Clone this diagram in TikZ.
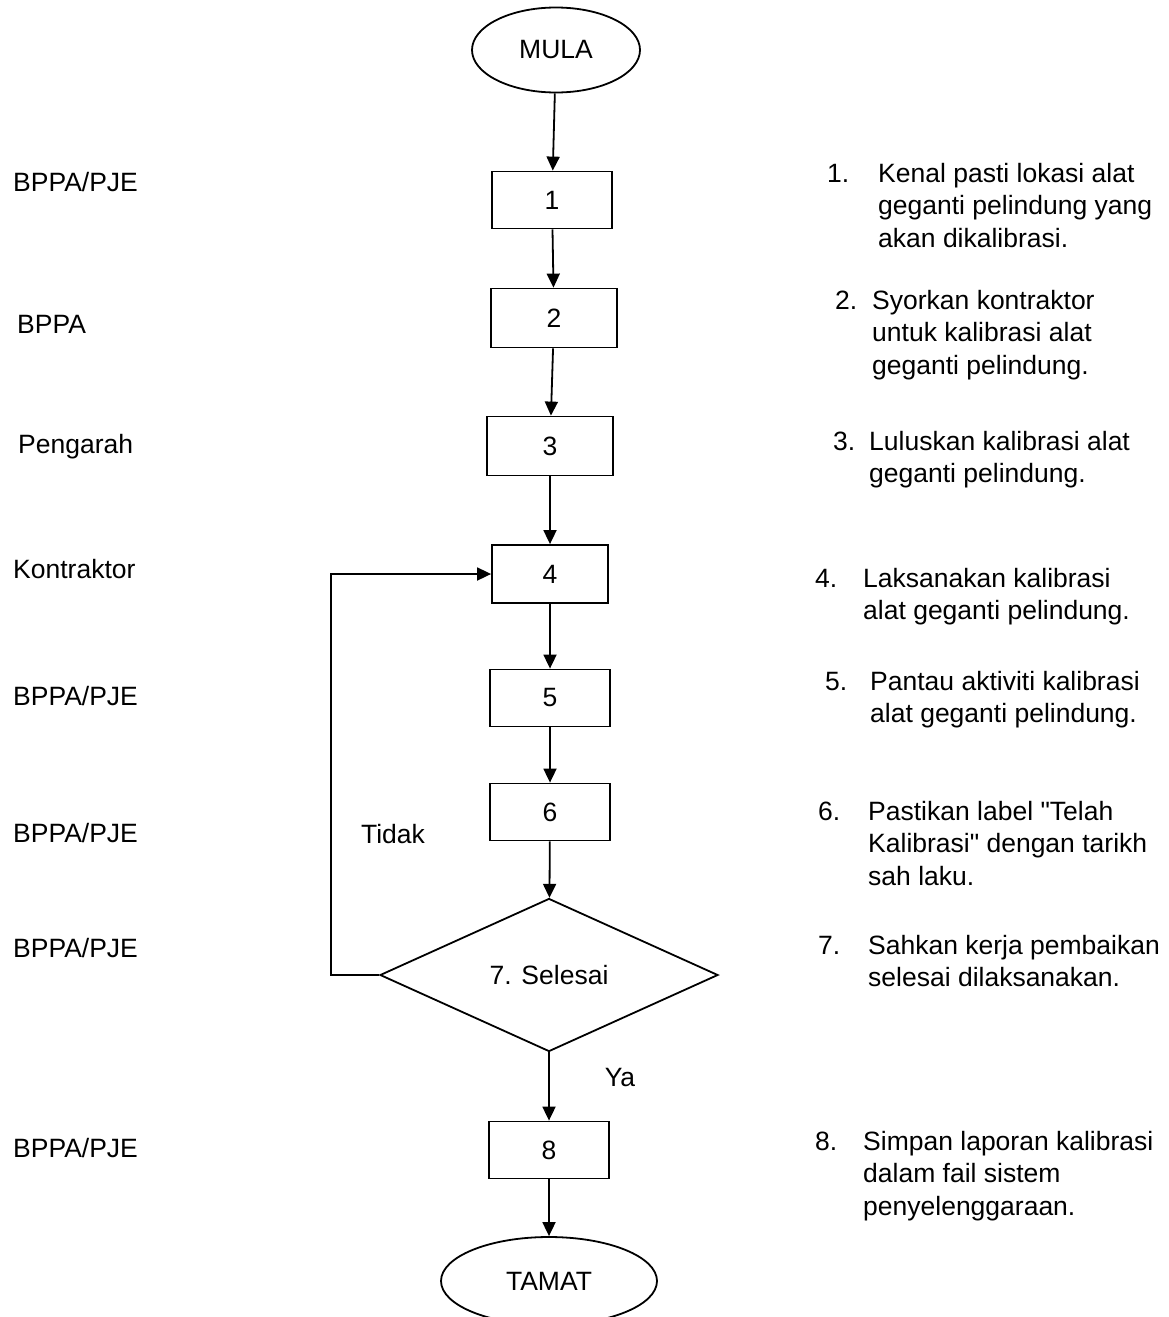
\documentclass[tikz,border=0pt]{standalone}
\usepackage{fontspec}
\setmainfont{Liberation Sans}[Ligatures=TeXOff]
\usepackage{tikz}
\usetikzlibrary{arrows.meta, positioning, shapes.geometric, calc}

\tikzset{
  flowline/.style={line width=1.8pt},
  flowarrow/.style={flowline, -{Triangle[length=14pt, width=13pt]}},
  procbox/.style={draw, flowline, rectangle, minimum width=120pt, minimum height=57pt, inner sep=0pt},
  termnode/.style={draw, flowline, ellipse, minimum width=168pt, minimum height=85pt, inner sep=0pt},
  decnode/.style={draw, flowline, diamond, minimum width=338pt, minimum height=153pt, inner sep=0pt},
  rolelabel/.style={anchor=base west, inner sep=0pt},
  stepnum/.style={anchor=base west, inner sep=0pt},
  steptext/.style={anchor=north west, inner sep=0pt, align=left}
}

\begin{document}
\begin{tikzpicture}[x=1pt, y=-1pt, font=\fontsize{26.5}{32.5}\selectfont]
    \useasboundingbox (0,0) rectangle (1168,1317);
    % --- Flow chart ---
    \node[termnode] (mula) at (556,50) {MULA};
    \node[procbox] (b1) at (552,200) {1};
    \node[procbox, minimum width=126pt, minimum height=59pt] (b2) at (554,318) {2};
    \node[procbox, minimum width=126pt, minimum height=59pt] (b3) at (550,446) {3};
    \node[procbox, minimum width=116pt, minimum height=58pt] (b4) at (550,574) {4};
    \node[procbox] (b5) at (550,698) {5};
    \node[procbox] (b6) at (550,812) {6};
    \node[decnode] (dec) at (549,975) {7. Selesai};
    \node[procbox] (b8) at (549,1150) {8};
    \node[termnode, minimum width=216pt, minimum height=88pt] (tamat) at (549,1281) {TAMAT};
    \draw[flowarrow] (mula) -- (b1);
    \draw[flowarrow] (b1) -- (b2);
    \draw[flowarrow] (b2) -- (b3);
    \draw[flowarrow] (b3) -- (b4);
    \draw[flowarrow] (b4) -- (b5);
    \draw[flowarrow] (b5) -- (b6);
    \draw[flowarrow] (b6) -- (dec);
    \draw[flowarrow] (dec) -- (b8);
    \draw[flowarrow] (b8) -- (tamat);
    % Loop back
    \coordinate (loop) at (331,975);
    \draw[flowarrow] (dec.west) -- (loop) |- (b4.west);
    \node (tidak) at (393,834) {Tidak};
    \node (ya) at (620,1078) {Ya};
    % --- Roles ---
    \node[rolelabel] (r1) at (13,191) {BPPA/PJE};
    \node[rolelabel] (r2) at (17,333) {BPPA};
    \node[rolelabel] (r3) at (18,453) {Pengarah};
    \node[rolelabel] (r4) at (13,578) {Kontraktor};
    \node[rolelabel] (r5) at (13,705) {BPPA/PJE};
    \node[rolelabel] (r6) at (13,842) {BPPA/PJE};
    \node[rolelabel] (r7) at (13,957) {BPPA/PJE};
    \node[rolelabel] (r8) at (13,1157) {BPPA/PJE};
    % --- Step notes ---
    \node[steptext] (t1) at (878,163) {Kenal pasti lokasi alat\\geganti pelindung yang\\akan dikalibrasi.};
    \node[stepnum] (n1) at ($(827,0 |- t1.base)+(0,-65)$) {1.};
    \node[steptext] (t2) at (872,290) {Syorkan kontraktor\\untuk kalibrasi alat\\geganti pelindung.};
    \node[stepnum] (n2) at ($(835,0 |- t2.base)+(0,-65)$) {2.};
    \node[steptext] (t3) at (869,431) {Luluskan kalibrasi alat\\geganti pelindung.};
    \node[stepnum] (n3) at ($(833,0 |- t3.base)+(0,-32.5)$) {3.};
    \node[steptext] (t4) at (863,568) {Laksanakan kalibrasi\\alat geganti pelindung.};
    \node[stepnum] (n4) at ($(815,0 |- t4.base)+(0,-32.5)$) {4.};
    \node[steptext] (t5) at (870,671) {Pantau aktiviti kalibrasi\\alat geganti pelindung.};
    \node[stepnum] (n5) at ($(825,0 |- t5.base)+(0,-32.5)$) {5.};
    \node[steptext] (t6) at (868,801) {Pastikan label "Telah\\Kalibrasi" dengan tarikh\\sah laku.};
    \node[stepnum] (n6) at ($(818,0 |- t6.base)+(0,-65)$) {6.};
    \node[steptext] (t7) at (868,935) {Sahkan kerja pembaikan\\selesai dilaksanakan.};
    \node[stepnum] (n7) at ($(818,0 |- t7.base)+(0,-32.5)$) {7.};
    \node[steptext] (t8) at (863,1131) {Simpan laporan kalibrasi\\dalam fail sistem\\penyelenggaraan.};
    \node[stepnum] (n8) at ($(815,0 |- t8.base)+(0,-65)$) {8.};
  \end{tikzpicture}
\end{document}
